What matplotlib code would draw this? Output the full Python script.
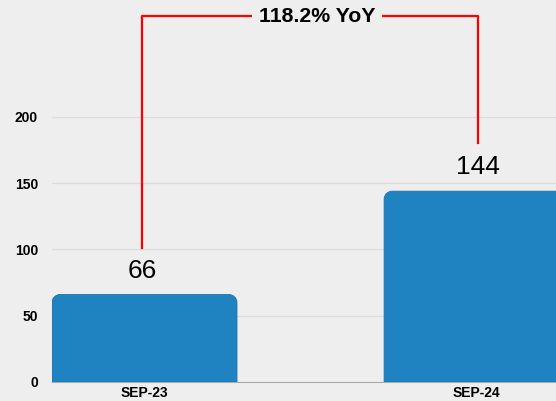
import matplotlib
matplotlib.use("Agg")
import matplotlib.pyplot as plt
from matplotlib.path import Path
from matplotlib.patches import PathPatch

plt.rcParams['font.family'] = ['Liberation Sans', 'DejaVu Sans']

#chart data
categories = ["SEP-23", "SEP-24"]
values = [66, 144]
yoy_label = "118.2% YoY"
yticks = [0, 50, 100, 150, 200]

bg = "#eeeeee"
bar_color = "#1f83c2"
bar_w = 0.557

fig = plt.figure(figsize=(5.56, 4.01), dpi=100, facecolor=bg)
ax = fig.add_axes([0.0935, 0.0474, 1 - 0.0935, 0.727])
ax.set_facecolor(bg)
ax.set_xlim(-bar_w / 2, 1.239)
ax.set_ylim(0, 220)

#px per data unit, used for rounding the bar tops
px_x = 332.0
px_y = 1.325
r = 8.0
rx, ry = r / px_x, r / px_y

def rounded_bar(x, h):
    x0, x1 = x - bar_w / 2, x + bar_w / 2
    k = 0.55
    verts = [(x0, 0), (x0, h - ry),
             (x0, h - ry + k * ry), (x0 + rx - k * rx, h), (x0 + rx, h),
             (x1 - rx, h),
             (x1 - rx + k * rx, h), (x1, h - ry + k * ry), (x1, h - ry),
             (x1, 0), (x0, 0)]
    codes = [Path.MOVETO, Path.LINETO,
             Path.CURVE4, Path.CURVE4, Path.CURVE4,
             Path.LINETO,
             Path.CURVE4, Path.CURVE4, Path.CURVE4,
             Path.LINETO, Path.CLOSEPOLY]
    return PathPatch(Path(verts, codes), facecolor=bar_color,
                     edgecolor="#1a74ad", linewidth=0.6, zorder=3)

#YoY bracket ends sit a touch off the bar centres
xl, xr = -2.5 / px_x, 1 + 1.5 / px_x
label_x = [xl, xr]

for i, v in enumerate(values):
    ax.add_patch(rounded_bar(i, v))
    ax.text(label_x[i], v + 9, str(v), ha="center", va="bottom",
            fontsize=19, zorder=4)

top = 276
ax.plot([xl, xl, xr, xr], [values[0] + 35, top, top, values[1] + 36],
        color="red", linewidth=1.6, clip_on=False, zorder=5)
ax.text((xl + xr) / 2 + 7 / px_x, top, yoy_label, ha="center", va="center",
        fontsize=15.3, fontweight="bold", clip_on=False, zorder=6,
        bbox=dict(facecolor=bg, edgecolor="none", pad=5))

ax.set_yticks(yticks)
ax.set_xticks(range(len(categories)))
ax.set_xticklabels(categories)
ax.grid(axis="y", color="#dcdcdc", linewidth=0.9, zorder=0)
ax.tick_params(length=0, labelsize=10)
ax.tick_params(axis="y", pad=10)
ax.tick_params(axis="x", pad=3)
for lbl in ax.get_xticklabels() + ax.get_yticklabels():
    lbl.set_fontweight("bold")
for s in ["top", "right", "left"]:
    ax.spines[s].set_visible(False)
ax.spines["bottom"].set_color("#aaaaaa")

fig.savefig("out.png", dpi=100, facecolor=bg)
